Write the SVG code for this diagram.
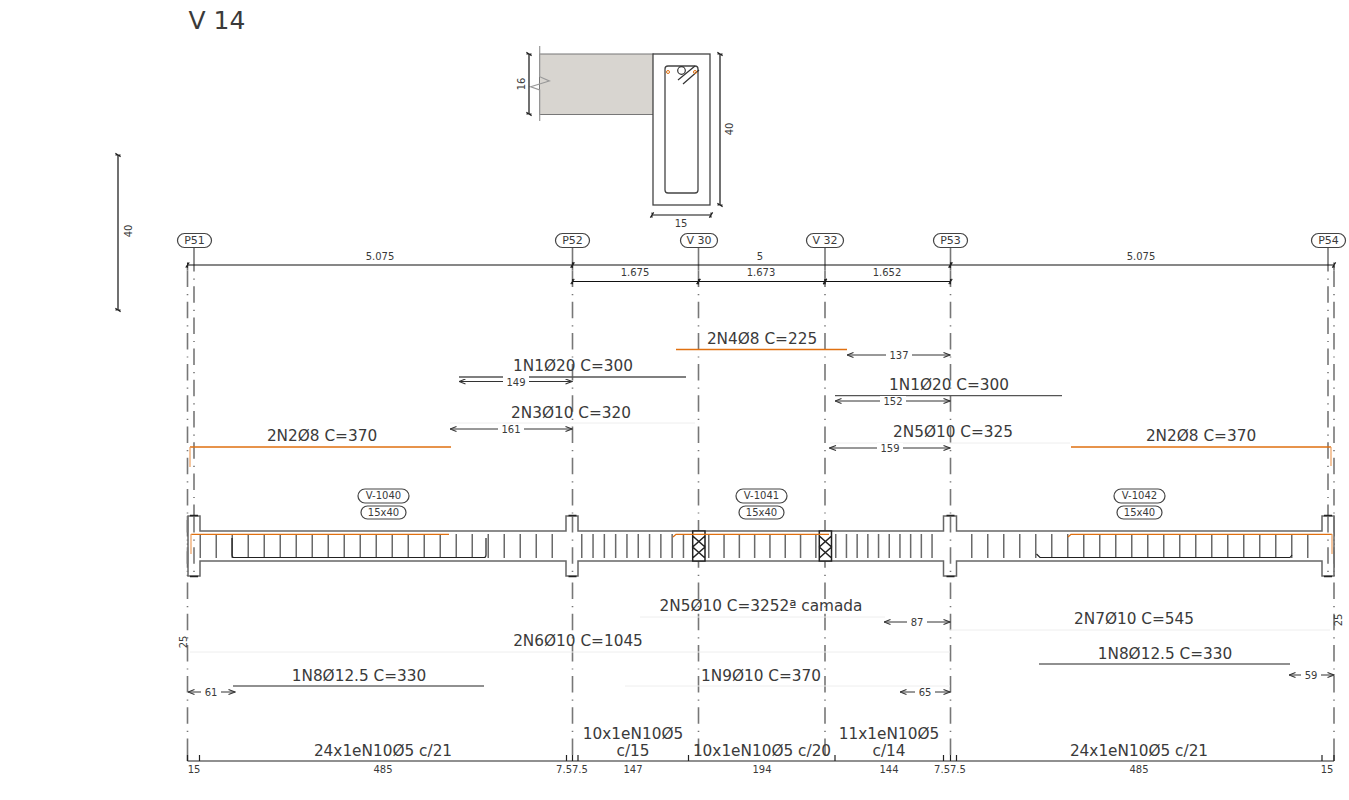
<svg xmlns="http://www.w3.org/2000/svg" width="1349" height="800" viewBox="0 0 1349 800">
<style>
text{font-family:"DejaVu Sans",Verdana,sans-serif;fill:#3a3a3a;text-anchor:middle}
.b{font-size:15.3px}.s{font-size:10px}.p{font-size:11px}.q{font-size:10px}
.pill{fill:#fff;stroke:#444;stroke-width:1.2}
.ax{stroke:#777;stroke-width:1.6;fill:none;stroke-dasharray:16.5 7 1.2 6.5}
.sol{stroke:#777;stroke-width:1.6;fill:none}
.k{stroke:#222;stroke-width:1.2;fill:none}
.m{stroke:#555;stroke-width:1.3;fill:none}
.o{stroke:#e07010;stroke-width:1.3;fill:none}
.oh{stroke:#eda060;stroke-width:1.2;fill:none}
.l{stroke:#eee;stroke-width:1;fill:none}
.d{stroke:#333;stroke-width:1;fill:none;marker-start:url(#a);marker-end:url(#a)}
.t{stroke:#111;stroke-width:1.2;fill:none;marker-start:url(#t);marker-end:url(#t)}
.st{stroke:#6a6a6a;stroke-width:24;fill:none}
.w{fill:#fff}
</style>
<defs>
<marker id="a" viewBox="0 0 8 6" refX="7.500" refY="3" markerWidth="8" markerHeight="6" orient="auto-start-reverse" markerUnits="userSpaceOnUse"><path d="M1 .5L7.500 3L1 5.500" fill="none" stroke="#333" stroke-width="1.100"/></marker>
<marker id="t" viewBox="0 0 8 8" refX="4" refY="4" markerWidth="7" markerHeight="7" orient="auto" markerUnits="userSpaceOnUse"><path d="M2 7L6 1M4 1V7" fill="none" stroke="#222" stroke-width="1.200"/></marker>
</defs>
<text x="217" y="29" style="font-size:25px">V 14</text>

<g id="section">
<rect x="539.500" y="54" width="114" height="60.500" fill="#d8d5d0" stroke="#777"/>
<rect x="653" y="54" width="57" height="151" fill="#fff" stroke="#444" stroke-width="1.300"/>
<rect x="665" y="66" width="33" height="127" rx="3" fill="none" stroke="#444" stroke-width="1.300"/>
<path d="M539.700 46V76.700L549.300 81L530.700 86.700L539.700 90V121" fill="none" stroke="#999" stroke-width="1.200"/>
<circle cx="681.500" cy="70.500" r="3.800" fill="#fff" stroke="#333" stroke-width="1.200"/>
<path d="M678 80L695 66M683 84L699 70" stroke="#333" stroke-width="1.200" fill="none"/>
<circle cx="668" cy="72" r="1.500" fill="none" stroke="#e07010"/><circle cx="695" cy="72" r="1.500" fill="none" stroke="#e07010"/>
<path class="t" d="M529 54V114"/><path class="t" d="M720 54V205"/><path class="t" d="M652 215H711"/>
<text class="s" transform="translate(524.500 84) rotate(-90)">16</text>
<text class="s" transform="translate(732.500 129) rotate(-90)">40</text>
<text class="s" x="681" y="227">15</text>
</g>

<g id="scale"><path class="t" d="M118 155V310"/><text class="s" transform="translate(131.500 231) rotate(-90)">40</text></g>

<g id="connectors">
<path class="ax" d="M187.500 270.500V740M572.500 270.500V761M698.500 270.500V761M825 270.500V761M950.500 270.500V761M1334 270.500V740"/>
<path class="ax" d="M194 255V516M1328 255V516"/>
<path class="sol" d="M194 248V255M572.500 248V270.500M698.500 248V270.500M825 248V270.500M950.500 248V270.500M1328 248V255M187.500 265V270.500M1334 265V270.500M187.500 740V761M1334 740V761"/>
<path class="t" d="M187.500 265H572.500"/><path class="t" d="M572.500 265H950.500"/><path class="t" d="M950.500 265H1334"/>
<path class="t" d="M572.500 281.500H698.500"/><path class="t" d="M698.500 281.500H825"/><path class="t" d="M825 281.500H950.500"/>
<path class="o" d="M676 349.500H847M190 447H451M1071 447H1331"/>
<path class="oh" d="M190 447V467M1331 447V466"/>
<path class="m" d="M459 377H686M835 395.700H1062"/>
<path class="k" d="M233 686H484M1039 664H1290"/>
<path class="l" d="M450 423H695M830 443H1070M640 617H885M950 630H1330M190 652H950M625 686H950"/>
<path class="d" d="M847 355H950"/><path class="d" d="M459 381.500H572"/><path class="d" d="M835 401H950"/><path class="d" d="M450 429H572"/><path class="d" d="M829.500 448H950"/><path class="d" d="M884 622H950"/><path class="d" d="M900 692H950"/><path class="d" d="M188 692H235"/><path class="d" d="M1289 675H1334"/>
<path class="k" d="M187.500 761H1334M187.500 755V761M199.500 755V761M566.500 755V761M572.500 755V761M578 755V761M688.500 755V761M835 755V761M943.500 755V761M950.500 755V761M956.500 755V761M1322 755V761M1334 755V761"/>
</g>

<g id="dim-labels">
<text class="s" x="380" y="260">5.075</text><text class="s" x="760" y="260">5</text><text class="s" x="1141" y="260">5.075</text>
<text class="s" x="635" y="276">1.675</text><text class="s" x="761" y="276">1.673</text><text class="s" x="887" y="276">1.652</text>
<rect class="w" x="503" y="376" width="26" height="11"/><text class="s" x="516" y="386">149</text>
<rect class="w" x="886" y="350" width="26" height="11"/><text class="s" x="899" y="359">137</text>
<rect class="w" x="880" y="396" width="26" height="11"/><text class="s" x="893" y="405">152</text>
<rect class="w" x="498" y="424" width="26" height="11"/><text class="s" x="511" y="433">161</text>
<rect class="w" x="877" y="443" width="26" height="11"/><text class="s" x="890" y="452">159</text>
<rect class="w" x="907" y="617" width="20" height="11"/><text class="s" x="917" y="626">87</text>
<rect class="w" x="915" y="687" width="20" height="11"/><text class="s" x="925" y="696">65</text>
<rect class="w" x="201" y="687" width="20" height="11"/><text class="s" x="211" y="696">61</text>
<rect class="w" x="1301" y="670" width="20" height="11"/><text class="s" x="1311" y="679">59</text>
<text class="s" transform="translate(187 642) rotate(-90)">25</text><text class="s" transform="translate(1342 620) rotate(-90)">25</text>
<text class="s" x="194" y="773">15</text><text class="s" x="383" y="773">485</text><text class="s" x="572" y="773">7.57.5</text><text class="s" x="633" y="773">147</text><text class="s" x="762" y="773">194</text><text class="s" x="889" y="773">144</text><text class="s" x="950" y="773">7.57.5</text><text class="s" x="1139" y="773">485</text><text class="s" x="1327" y="773">15</text>
</g>

<g id="P51"><rect class="pill" x="177.500" y="233.500" width="34" height="14" rx="7"/><text class="p" x="194.500" y="243.500">P51</text></g>
<g id="P52"><rect class="pill" x="555.500" y="233.500" width="34" height="14" rx="7"/><text class="p" x="572.500" y="243.500">P52</text></g>
<g id="V30"><rect class="pill" x="680.500" y="233.500" width="37" height="14" rx="7"/><text class="p" x="699" y="243.500">V 30</text></g>
<g id="V32"><rect class="pill" x="806.500" y="233.500" width="37" height="14" rx="7"/><text class="p" x="825" y="243.500">V 32</text></g>
<g id="P53"><rect class="pill" x="933.500" y="233.500" width="34" height="14" rx="7"/><text class="p" x="950.500" y="243.500">P53</text></g>
<g id="P54"><rect class="pill" x="1311.500" y="233.500" width="34" height="14" rx="7"/><text class="p" x="1328.500" y="243.500">P54</text></g>

<g id="beam">
<path d="M188 516H200V531H566V516H578V531H943.500V516H956.500V531H1322V516H1334V576H1322V561H956.500V576H943.500V561H578V576H566V561H200V576H188Z" fill="#fff" stroke="#666" stroke-width="1.500"/>
<path class="ax" d="M187.500 516V576M194 516V576M572.500 516V576M950.500 516V576M1328 516V576M1334 516V576"/>
<line class="st" x1="199.500" y1="546" x2="567" y2="546" stroke-dasharray="1.500 14.500"/>
<line class="st" x1="581" y1="546" x2="692" y2="546" stroke-dasharray="1.500 9.800"/>
<line class="st" x1="708" y1="546" x2="818" y2="546" stroke-dasharray="1.500 13.800"/>
<line class="st" x1="835" y1="546" x2="942" y2="546" stroke-dasharray="1.500 9.200"/>
<line class="st" x1="971" y1="546" x2="1322" y2="546" stroke-dasharray="1.500 14.500"/>
<path d="M200 533.500H566M578 533.500H943M957 533.500H1322M200 558.500H566M578 558.500H943M957 558.500H1322" stroke="#fff" fill="none" stroke-dasharray="2 14"/>
<path d="M692.700 531H705V561H692.700ZM692.700 536L705 547L692.700 558M705 536L692.700 547L705 558" fill="#fff" stroke="#222" stroke-width="1.500"/>
<path d="M819.300 531H831.500V561H819.300ZM819.300 536L831.500 547L819.300 558M831.500 536L819.300 547L831.500 558" fill="#fff" stroke="#222" stroke-width="1.500"/>
<path class="o" d="M191 534.300H449M673 537L676 534.300H829M1068 537L1071 534.300H1332"/>
<path class="oh" d="M191 534V554M1332 534V554"/>
<path class="k" d="M232 538V555Q232 557.500 234 557.500H484Q486 557.500 486 555V538M1036.500 554L1040 557.500H1290L1292 555"/>
<path d="M190 515.500H198M190 576.500H198M568.500 515.500H576.500M568.500 576.500H576.500M946.500 515.500H954.500M946.500 576.500H954.500M1324 515.500H1332M1324 576.500H1332" stroke="#222" stroke-width="1.500" fill="none"/>
</g>

<g id="tag-1040"><rect class="pill" x="358" y="489" width="51" height="14" rx="7"/><text class="q" x="383.500" y="498.500">V-1040</text><rect class="pill" x="361" y="506" width="45" height="13" rx="6.500"/><text class="q" x="383.500" y="515.500">15x40</text></g>
<g id="tag-1041"><rect class="pill" x="736" y="489" width="51" height="14" rx="7"/><text class="q" x="761.500" y="498.500">V-1041</text><rect class="pill" x="739" y="506" width="45" height="13" rx="6.500"/><text class="q" x="761.500" y="515.500">15x40</text></g>
<g id="tag-1042"><rect class="pill" x="1114" y="489" width="51" height="14" rx="7"/><text class="q" x="1139.500" y="498.500">V-1042</text><rect class="pill" x="1117" y="506" width="45" height="13" rx="6.500"/><text class="q" x="1139.500" y="515.500">15x40</text></g>

<g id="labels">
<text class="b" x="762" y="344">2N4Ø8 C=225</text>
<text class="b" x="573" y="371">1N1Ø20 C=300</text>
<text class="b" x="949" y="390">1N1Ø20 C=300</text>
<text class="b" x="571" y="418">2N3Ø10 C=320</text>
<text class="b" x="322" y="441">2N2Ø8 C=370</text>
<text class="b" x="953" y="437">2N5Ø10 C=325</text>
<text class="b" x="1201" y="441">2N2Ø8 C=370</text>
<text class="b" x="761" y="611">2N5Ø10 C=3252ª camada</text>
<text class="b" x="1134" y="624">2N7Ø10 C=545</text>
<text class="b" x="578" y="646">2N6Ø10 C=1045</text>
<text class="b" x="1165" y="659">1N8Ø12.5 C=330</text>
<text class="b" x="359" y="681">1N8Ø12.5 C=330</text>
<text class="b" x="761" y="681">1N9Ø10 C=370</text>
<text class="b" x="383" y="756">24x1eN10Ø5 c/21</text>
<text class="b" x="633" y="739">10x1eN10Ø5</text><text class="b" x="633" y="756">c/15</text>
<text class="b" x="762" y="756">10x1eN10Ø5 c/20</text>
<text class="b" x="889" y="739">11x1eN10Ø5</text><text class="b" x="889" y="756">c/14</text>
<text class="b" x="1139" y="756">24x1eN10Ø5 c/21</text>
</g>
</svg>
